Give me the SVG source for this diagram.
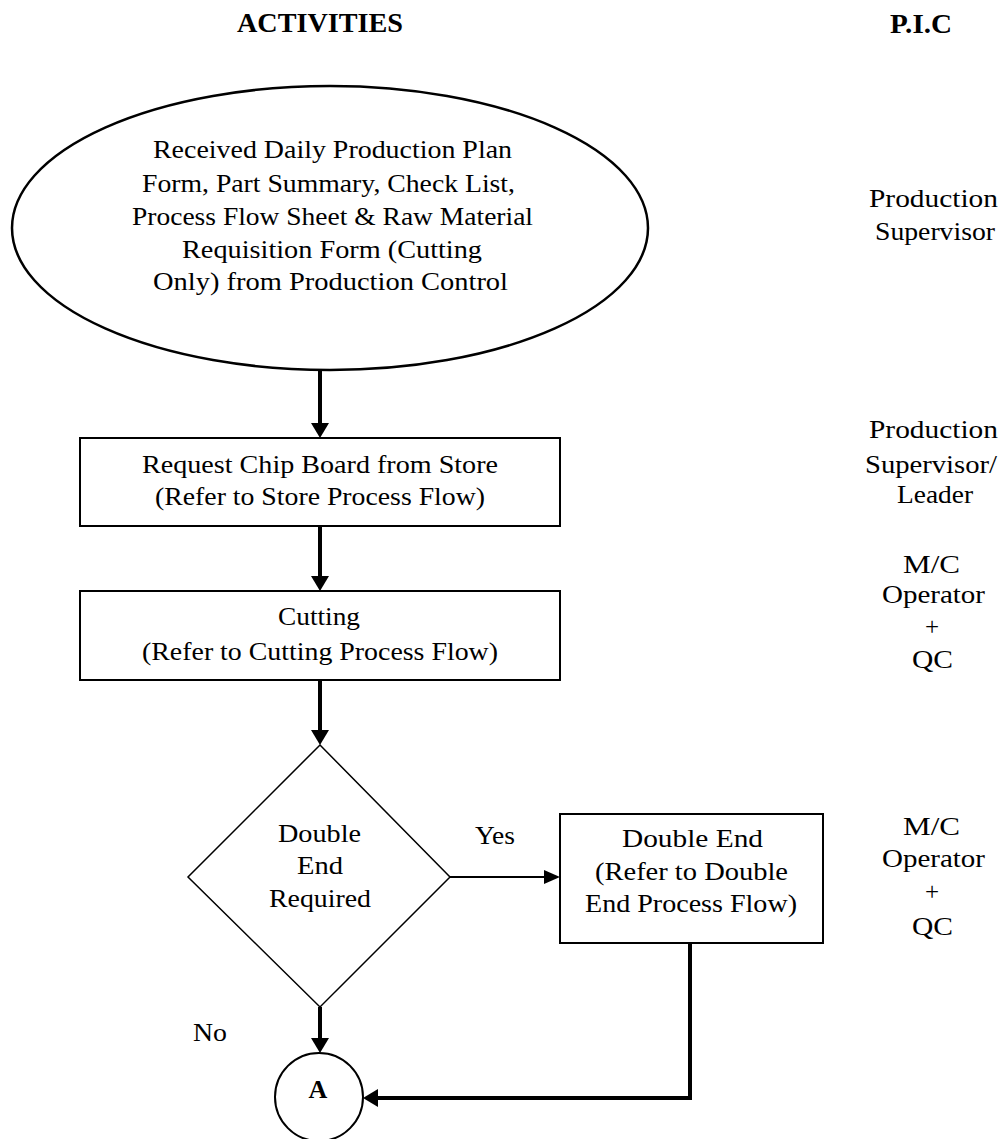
<svg xmlns="http://www.w3.org/2000/svg" width="1002" height="1139" viewBox="0 0 1002 1139">
  <style>
    text { font-family: "Liberation Serif", "Times New Roman", serif; fill: #000; }
    .t { font-size: 25px; }
    .h { font-size: 27px; font-weight: bold; }
    .b { font-size: 26px; font-weight: bold; }
    .shape { fill: #fff; stroke: #000; }
    .flow { fill: none; stroke: #000; }
  </style>
  <defs>
    <marker id="arrow" markerUnits="userSpaceOnUse" markerWidth="16" markerHeight="18" refX="9" refY="9" orient="auto">
      <path d="M0,0 L15,9 L0,18 Z" fill="#000"/>
    </marker>
    <marker id="arrowThin" markerUnits="userSpaceOnUse" markerWidth="16" markerHeight="14" refX="10" refY="7" orient="auto">
      <path d="M0,0 L16,7 L0,14 Z" fill="#000"/>
    </marker>
  </defs>

  <rect width="1002" height="1139" fill="#fff"/>

  <!-- column headings -->
  <g id="headings">
    <text class="h" x="237" y="32" textLength="166" lengthAdjust="spacingAndGlyphs">ACTIVITIES</text>
    <text class="h" x="890" y="33" textLength="62" lengthAdjust="spacingAndGlyphs">P.I.C</text>
  </g>

  <!-- connectors -->
  <g id="connectors">
    <line class="flow" x1="320" y1="369" x2="320" y2="432" stroke-width="4" marker-end="url(#arrow)"/>
    <line class="flow" x1="320" y1="526" x2="320" y2="585" stroke-width="4" marker-end="url(#arrow)"/>
    <line class="flow" x1="320" y1="680" x2="320" y2="739" stroke-width="4" marker-end="url(#arrow)"/>
    <line class="flow" x1="450" y1="877" x2="554" y2="877" stroke-width="2" marker-end="url(#arrowThin)"/>
    <line class="flow" x1="320" y1="1007" x2="320" y2="1047" stroke-width="4" marker-end="url(#arrow)"/>
    <polyline class="flow" points="690,943 690,1098 369,1098" stroke-width="4" marker-end="url(#arrow)"/>
    <text class="t" x="475" y="844" textLength="40" lengthAdjust="spacingAndGlyphs">Yes</text>
    <text class="t" x="193" y="1041" textLength="34" lengthAdjust="spacingAndGlyphs">No</text>
  </g>

  <!-- start: documents received -->
  <g id="node-received">
    <ellipse class="shape" cx="330" cy="228" rx="318" ry="142" stroke-width="2.5"/>
    <text class="t" x="153" y="158" textLength="359" lengthAdjust="spacingAndGlyphs">Received Daily Production Plan</text>
    <text class="t" x="142" y="192" textLength="373" lengthAdjust="spacingAndGlyphs">Form, Part Summary, Check List,</text>
    <text class="t" x="132" y="225" textLength="401" lengthAdjust="spacingAndGlyphs">Process Flow Sheet &amp; Raw Material</text>
    <text class="t" x="182" y="258" textLength="300" lengthAdjust="spacingAndGlyphs">Requisition Form (Cutting</text>
    <text class="t" x="153" y="290" textLength="355" lengthAdjust="spacingAndGlyphs">Only) from Production Control</text>
  </g>

  <g id="node-request">
    <rect class="shape" x="80" y="438" width="480" height="88" stroke-width="2"/>
    <text class="t" x="142" y="473" textLength="356" lengthAdjust="spacingAndGlyphs">Request Chip Board from Store</text>
    <text class="t" x="155" y="505" textLength="330" lengthAdjust="spacingAndGlyphs">(Refer to Store Process Flow)</text>
  </g>

  <g id="node-cutting">
    <rect class="shape" x="80" y="591" width="480" height="89" stroke-width="2"/>
    <text class="t" x="278" y="625" textLength="82" lengthAdjust="spacingAndGlyphs">Cutting</text>
    <text class="t" x="142" y="660" textLength="356" lengthAdjust="spacingAndGlyphs">(Refer to Cutting Process Flow)</text>
  </g>

  <g id="node-decision">
    <polygon class="shape" points="320,745 450,877 320,1007 188,877" stroke-width="1.5"/>
    <text class="t" x="278" y="842" textLength="83" lengthAdjust="spacingAndGlyphs">Double</text>
    <text class="t" x="297" y="874" textLength="46" lengthAdjust="spacingAndGlyphs">End</text>
    <text class="t" x="269" y="907" textLength="102" lengthAdjust="spacingAndGlyphs">Required</text>
  </g>

  <g id="node-double-end">
    <rect class="shape" x="560" y="814" width="263" height="129" stroke-width="2"/>
    <text class="t" x="622" y="847" textLength="141" lengthAdjust="spacingAndGlyphs">Double End</text>
    <text class="t" x="595" y="880" textLength="193" lengthAdjust="spacingAndGlyphs">(Refer to Double</text>
    <text class="t" x="585" y="912" textLength="212" lengthAdjust="spacingAndGlyphs">End Process Flow)</text>
  </g>

  <g id="node-connector-a">
    <circle class="shape" cx="319" cy="1097" r="44" stroke-width="2"/>
    <text class="b" x="318" y="1098" text-anchor="middle">A</text>
  </g>

  <!-- persons in charge -->
  <g id="pic-1">
    <text class="t" x="869" y="207" textLength="129" lengthAdjust="spacingAndGlyphs">Production</text>
    <text class="t" x="875" y="240" textLength="120" lengthAdjust="spacingAndGlyphs">Supervisor</text>
  </g>
  <g id="pic-2">
    <text class="t" x="869" y="438" textLength="129" lengthAdjust="spacingAndGlyphs">Production</text>
    <text class="t" x="865" y="473" textLength="132" lengthAdjust="spacingAndGlyphs">Supervisor/</text>
    <text class="t" x="897" y="503" textLength="76" lengthAdjust="spacingAndGlyphs">Leader</text>
  </g>
  <g id="pic-3">
    <text class="t" x="903" y="573" textLength="57" lengthAdjust="spacingAndGlyphs">M/C</text>
    <text class="t" x="882" y="603" textLength="103" lengthAdjust="spacingAndGlyphs">Operator</text>
    <text class="t" x="932" y="635" text-anchor="middle">+</text>
    <text class="t" x="912" y="668" textLength="41" lengthAdjust="spacingAndGlyphs">QC</text>
  </g>
  <g id="pic-4">
    <text class="t" x="903" y="835" textLength="57" lengthAdjust="spacingAndGlyphs">M/C</text>
    <text class="t" x="882" y="867" textLength="103" lengthAdjust="spacingAndGlyphs">Operator</text>
    <text class="t" x="932" y="900" text-anchor="middle">+</text>
    <text class="t" x="912" y="935" textLength="41" lengthAdjust="spacingAndGlyphs">QC</text>
  </g>
</svg>
